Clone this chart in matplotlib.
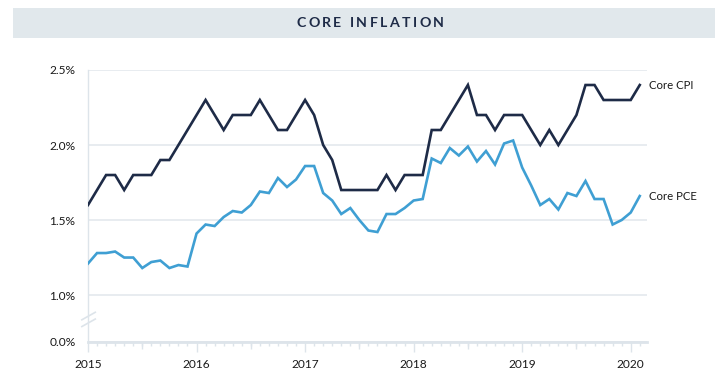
import matplotlib
matplotlib.use("Agg")
import matplotlib.pyplot as plt
import matplotlib.transforms as mtransforms
from matplotlib.patches import Rectangle
import numpy as np

# Monthly year-over-year rates, Jan 2015 - Feb 2020
start_year = 2015
core_cpi = [
    1.6, 1.7, 1.8, 1.8, 1.7, 1.8, 1.8, 1.8, 1.9, 1.9, 2.0, 2.1,
    2.2, 2.3, 2.2, 2.1, 2.2, 2.2, 2.2, 2.3, 2.2, 2.1, 2.1, 2.2,
    2.3, 2.2, 2.0, 1.9, 1.7, 1.7, 1.7, 1.7, 1.7, 1.8, 1.7, 1.8,
    1.8, 1.8, 2.1, 2.1, 2.2, 2.3, 2.4, 2.2, 2.2, 2.1, 2.2, 2.2,
    2.2, 2.1, 2.0, 2.1, 2.0, 2.1, 2.2, 2.4, 2.4, 2.3, 2.3, 2.3,
    2.3, 2.4,
]
core_pce = [
    1.21, 1.28, 1.28, 1.29, 1.25, 1.25, 1.18, 1.22, 1.23, 1.18, 1.20, 1.19,
    1.41, 1.47, 1.46, 1.52, 1.56, 1.55, 1.60, 1.69, 1.68, 1.78, 1.72, 1.77,
    1.86, 1.86, 1.68, 1.63, 1.54, 1.58, 1.50, 1.43, 1.42, 1.54, 1.54, 1.58,
    1.63, 1.64, 1.91, 1.88, 1.98, 1.93, 1.99, 1.89, 1.96, 1.87, 2.01, 2.03,
    1.85, 1.73, 1.60, 1.64, 1.57, 1.68, 1.66, 1.76, 1.64, 1.64, 1.47, 1.50,
    1.55, 1.66,
]
series_names = ["Core CPI", "Core PCE"]
title = "CORE INFLATION"
year_ticks = [2015, 2016, 2017, 2018, 2019, 2020]
pct_ticks = [1.0, 1.5, 2.0, 2.5]

navy = "#1e2b47"
blue = "#3f9fd3"
light = "#dde4ea"
band = "#e1e8ec"

plt.rcParams["font.family"] = ["Lato", "DejaVu Sans"]

fig = plt.figure(figsize=(7.28, 3.85), dpi=100)

# title band
fig.patches.append(Rectangle((13 / 728, 1 - 38 / 385), 702 / 728, 30 / 385,
                             transform=fig.transFigure, facecolor=band,
                             edgecolor="none", zorder=0))


def spaced_title(text, xc, yc, spacing, **kw):
    r = fig.canvas.get_renderer()
    parts = [fig.text(0, 0, ch, **kw) for ch in text]
    widths = [p.get_window_extent(r).width for p in parts]
    total = sum(widths) + spacing * (len(text) - 1)
    x = xc * fig.bbox.width - total / 2
    for p, w in zip(parts, widths):
        p.set_position((x / fig.bbox.width, yc))
        p.set_ha("left")
        x += w + spacing


spaced_title(title, 370 / 728, 1 - 23 / 385, 2.4, fontsize=10.2, weight="bold",
             color=navy, va="center")

ax = fig.add_axes([88 / 728, 1 - 342 / 385, 559 / 728, 272 / 385])

x = start_year + np.arange(len(core_cpi)) / 12
ax.plot(x, core_cpi, color=navy, lw=1.9, solid_joinstyle="miter", zorder=3)
ax.plot(x, core_pce, color=blue, lw=1.9, solid_joinstyle="miter", zorder=3)

for vals, name in zip([core_cpi, core_pce], series_names):
    ax.annotate(name, (x[-1], vals[-1]), xytext=(7, 0), textcoords="offset points",
                va="center", ha="left", fontsize=8.2, color="#1a1a1a",
                annotation_clip=False)

# broken axis: 0% sits just under the 1% line
zero_pos = 0.687
ax.set_ylim(zero_pos, 2.5)
ax.set_xlim(start_year, start_year + 61.8 / 12)
ax.set_yticks([zero_pos] + pct_ticks)
ax.set_yticklabels(["0.0%"] + [f"{v:.1f}%" for v in pct_ticks])
ax.set_xticks(year_ticks)
ax.set_xticklabels([str(y) for y in year_ticks])
ax.set_xticks(start_year + np.arange(0, 62) / 12, minor=True)

ax.yaxis.grid(True, color="#e4e9ee", lw=1.2)
ax.set_axisbelow(True)
for s in ["top", "right"]:
    ax.spines[s].set_visible(False)
ax.spines["left"].set_color(light)
ax.spines["left"].set_linewidth(1.0)
ax.spines["bottom"].set_color(light)
ax.spines["bottom"].set_linewidth(2.0)
ax.spines["bottom"].set_zorder(2)

ax.tick_params(axis="y", length=0, pad=9, labelsize=8.6, labelcolor="#1a1a1a")
ax.tick_params(axis="x", which="major", length=7, width=1.0, color=light,
               pad=5, labelsize=8.6, labelcolor="#1a1a1a")
ax.tick_params(axis="x", which="minor", length=3, width=1.0, color=light)

# half-year ticks
sec = ax.secondary_xaxis("bottom")
sec.set_xticks([y + 0.5 for y in year_ticks[:-1]])
sec.tick_params(length=5, width=1.0, color=light, labelbottom=False)
sec.spines["bottom"].set_visible(False)

# break marks on the y axis
tr = mtransforms.blended_transform_factory(ax.transAxes, ax.transData)
for yb in [0.815, 0.86]:
    ax.plot([-0.011, 0.013], [yb - 0.025, yb + 0.025], color=light, lw=1.2,
            transform=tr, clip_on=False)

fig.savefig("out.png", dpi=100)
